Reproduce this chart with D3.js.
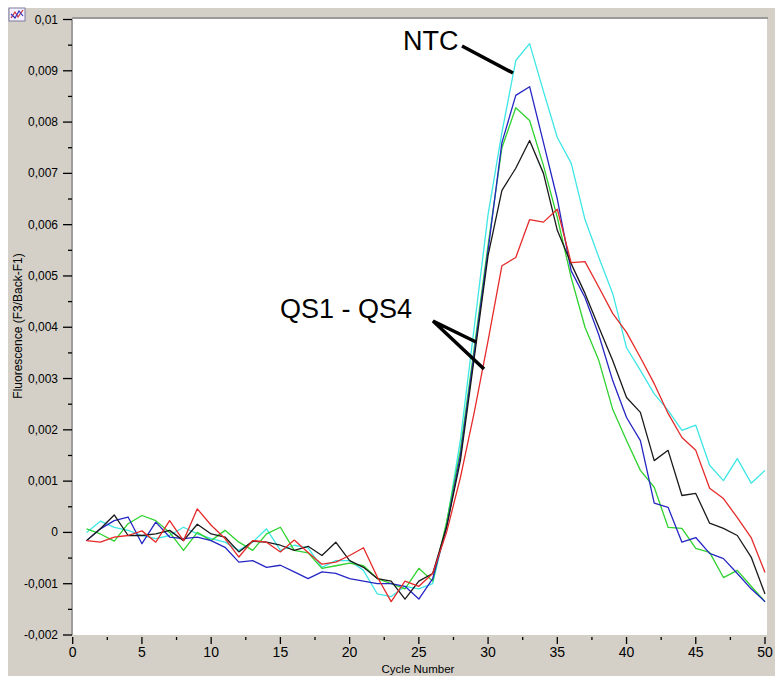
<!DOCTYPE html>
<html>
<head>
<meta charset="utf-8">
<script src="https://cdn.jsdelivr.net/npm/d3@7"></script>
<style>
  body { margin: 0; background: #fff; }
  svg { display: block; }
</style>
</head>
<body>
<svg id="chart" width="775" height="676"></svg>
<script>
// cycle numbers (x categories)
var cycles = [1,2,3,4,5,6,7,8,9,10,11,12,13,14,15,16,17,18,19,20,21,22,23,24,25,
              26,27,28,29,30,31,32,33,34,35,36,37,38,39,40,41,42,43,44,45,46,47,48,49,50];

// fluorescence values, in thousandths (x 0.001)
var blackVals = [-0.16,0.07,0.34,-0.06,-0.06,-0.03,0.04,-0.16,0.16,-0.03,-0.09,-0.38,-0.17,-0.19,-0.25,
  -0.35,-0.27,-0.45,-0.19,-0.55,-0.68,-0.9,-0.95,-1.3,-0.95,-0.8,0.1,1.4,3.4,5.4,6.67,7.1,7.64,7.0,5.89,
  5.24,4.66,4.0,3.35,2.63,2.34,1.4,1.6,0.72,0.76,0.18,0.08,-0.06,-0.48,-1.2];
var redVals = [-0.16,-0.19,-0.09,-0.06,0.03,-0.19,0.23,-0.16,0.46,0.14,-0.12,-0.48,-0.16,-0.19,-0.38,
  -0.15,-0.39,-0.62,-0.58,-0.45,-0.3,-0.87,-1.35,-0.95,-1.05,-0.8,0.0,1.07,2.34,3.74,5.2,5.36,6.1,6.05,6.3,
  5.26,5.28,4.78,4.27,3.9,3.41,2.9,2.32,1.85,1.6,0.86,0.66,0.29,-0.1,-0.78];
var greenVals = [0.07,-0.03,-0.17,0.17,0.33,0.23,0.0,-0.35,0.0,-0.16,0.04,-0.19,-0.35,-0.03,0.1,
  -0.35,-0.4,-0.7,-0.65,-0.6,-0.65,-0.9,-1.0,-1.1,-0.7,-0.95,0.2,1.6,3.6,5.6,7.5,8.28,8.03,7.15,6.14,
  4.97,4.0,3.35,2.4,1.79,1.21,0.88,0.1,0.08,-0.31,-0.39,-0.88,-0.74,-1.05,-1.35];
var blueVals = [-0.16,0.07,0.23,0.3,-0.22,0.2,-0.09,-0.12,-0.09,-0.16,-0.29,-0.58,-0.55,-0.68,-0.64,
  -0.77,-0.9,-0.77,-0.8,-0.9,-0.95,-1.0,-1.0,-1.05,-1.3,-0.9,0.1,1.5,3.5,5.5,7.6,8.52,8.69,7.6,6.5,
  5.1,4.58,3.85,2.96,2.24,1.79,0.57,0.49,-0.19,-0.1,-0.41,-0.51,-0.8,-1.1,-1.35];
var cyanVals = [0.0,0.22,0.1,0.04,-0.06,-0.12,-0.06,0.1,-0.03,-0.12,-0.19,-0.35,-0.19,0.07,-0.35,
  -0.25,-0.3,-0.68,-0.55,-0.55,-0.74,-1.2,-1.25,-1.05,-1.1,-1.0,0.15,1.8,4.0,6.2,7.8,9.2,9.53,8.6,7.7,
  7.2,6.1,5.36,4.66,3.6,3.16,2.7,2.38,1.99,2.09,1.31,1.01,1.44,0.96,1.21];

var seriesColors = { cyan: "#3ee6e6", green: "#2fd22f", blue: "#2626c4", black: "#1a1a1a", red: "#e52a2a" };

// axis ticks
var xMajorTicks = [0,5,10,15,20,25,30,35,40,45,50];
var xMinorTicks = [2.5,7.5,12.5,17.5,22.5,27.5,32.5,37.5,42.5,47.5];
var yMajorTicks = [-2,-1,0,1,2,3,4,5,6,7,8,9,10];
var yMinorTicks = [-1.5,-0.5,0.5,1.5,2.5,3.5,4.5,5.5,6.5,7.5,8.5,9.5];
var yTickLabels = ["-0,002","-0,001","0","0,001","0,002","0,003","0,004","0,005","0,006","0,007","0,008","0,009","0,01"];

var FONT = "Arial, 'Liberation Sans', sans-serif";
var svg = d3.select("#chart");
var plot = {left: 72.7, right: 765, top: 19.5, bottom: 635};
var bg = "#d4d0c8";

// window background (white strip top/left, grey panel)
svg.append("rect").attr("width", 775).attr("height", 676).attr("fill", "#fff");
svg.append("rect").attr("x", 8).attr("y", 8).attr("width", 767).attr("height", 668).attr("fill", bg);
svg.append("rect").attr("x", 73).attr("y", 19).attr("width", 694).attr("height", 616).attr("fill", "#fff");
svg.append("line").attr("x1", 72).attr("x2", 768).attr("y1", 18).attr("y2", 18)
  .attr("stroke", "#9a9a9a").attr("stroke-width", 2);

// little chart icon top-left
var icon = svg.append("g").attr("transform", "translate(9,8)");
icon.append("rect").attr("width", 16).attr("height", 13).attr("fill", "#f4f0ff").attr("stroke", "#7a7aa0");
icon.append("path").attr("d", "M2,10 L6,4 L9,9 L14,2").attr("fill", "none").attr("stroke", "#d03030").attr("stroke-width", 1.2);
icon.append("path").attr("d", "M2,6 L6,10 L10,3 L14,8").attr("fill", "none").attr("stroke", "#3030c0").attr("stroke-width", 1.2);

var x = d3.scaleLinear().domain([0, 50]).range([plot.left, plot.right]);
var y = d3.scaleLinear().domain([-2, 10]).range([plot.bottom, plot.top]);

// y axis
var yAxis = svg.append("g").attr("transform", "translate(72,0)");
yAxis.append("line").attr("y1", plot.top).attr("y2", plot.bottom).attr("stroke", "#8c8c8c").attr("stroke-width", 1.5);
yAxis.selectAll(".ymaj").data(yMajorTicks).enter().append("line")
  .attr("x1", -9).attr("x2", 0)
  .attr("y1", function(d) { return y(d); }).attr("y2", function(d) { return y(d); })
  .attr("stroke", "#000").attr("stroke-width", 1.3);
yAxis.selectAll(".ymin").data(yMinorTicks).enter().append("line")
  .attr("x1", -4).attr("x2", 0)
  .attr("y1", function(d) { return y(d); }).attr("y2", function(d) { return y(d); })
  .attr("stroke", "#000").attr("stroke-width", 1.3);
yAxis.selectAll("text").data(yMajorTicks).enter().append("text")
  .attr("x", -14).attr("y", function(d) { return y(d) + 4; })
  .attr("text-anchor", "end")
  .attr("font-family", FONT).attr("font-size", 12)
  .attr("fill", "#000")
  .text(function(d, i) { return yTickLabels[i]; });

// x axis
var xAxis = svg.append("g").attr("transform", "translate(0," + plot.bottom + ")");
xAxis.selectAll(".xmaj").data(xMajorTicks).enter().append("line")
  .attr("x1", function(d) { return x(d); }).attr("x2", function(d) { return x(d); })
  .attr("y1", 2).attr("y2", 9).attr("stroke", "#000").attr("stroke-width", 1.3);
xAxis.selectAll(".xmin").data(xMinorTicks).enter().append("line")
  .attr("x1", function(d) { return x(d); }).attr("x2", function(d) { return x(d); })
  .attr("y1", 2).attr("y2", 5).attr("stroke", "#000").attr("stroke-width", 1.3);
xAxis.selectAll("text").data(xMajorTicks).enter().append("text")
  .attr("x", function(d) { return x(d); }).attr("y", 22)
  .attr("text-anchor", "middle")
  .attr("font-family", FONT).attr("font-size", 14)
  .attr("fill", "#000")
  .text(function(d) { return d; });

// axis titles
svg.append("text").attr("x", 418).attr("y", 673).attr("text-anchor", "middle")
  .attr("font-family", FONT).attr("font-size", 11.5)
  .text("Cycle Number");
svg.append("text").attr("transform", "translate(22,326) rotate(-90)").attr("text-anchor", "middle")
  .attr("font-family", FONT).attr("font-size", 12)
  .text("Fluorescence (F3/Back-F1)");

// curves
var line = d3.line()
  .x(function(d) { return x(d.c); })
  .y(function(d) { return y(d.v); });

var series = [
  {name: "cyan", vals: cyanVals},
  {name: "green", vals: greenVals},
  {name: "blue", vals: blueVals},
  {name: "black", vals: blackVals},
  {name: "red", vals: redVals}
];

svg.append("g").selectAll("path").data(series).enter().append("path")
  .attr("d", function(s) { return line(cycles.map(function(c, i) { return {c: c, v: s.vals[i]}; })); })
  .attr("fill", "none")
  .attr("stroke", function(s) { return seriesColors[s.name]; })
  .attr("stroke-width", 1.3)
  .attr("stroke-linejoin", "round");

// annotations
var ann = svg.append("g").attr("font-family", FONT).attr("fill", "#000");
ann.append("text").attr("x", 403).attr("y", 50).attr("font-size", 27).text("NTC");
ann.append("line").attr("x1", 462).attr("y1", 46).attr("x2", 513).attr("y2", 73)
  .attr("stroke", "#000").attr("stroke-width", 3.5);
ann.append("text").attr("x", 280).attr("y", 318).attr("font-size", 27).text("QS1 - QS4");
ann.append("path").attr("d", "M476,342 L433,321 L484,369")
  .attr("fill", "none").attr("stroke", "#000").attr("stroke-width", 3.5).attr("stroke-linejoin", "miter");
</script>
</body>
</html>
